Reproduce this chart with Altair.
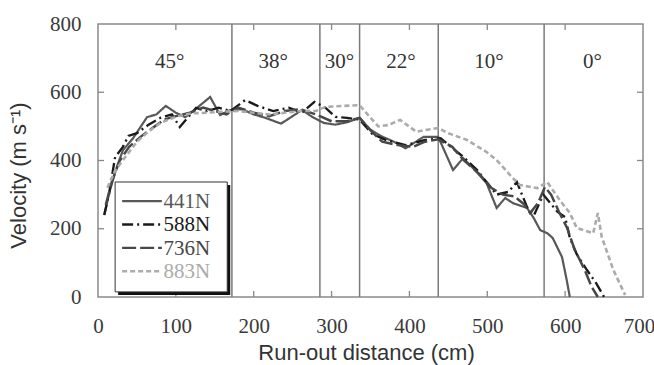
import altair as alt
import pandas as pd

# ---------------- data ----------------
series_names = ["441N", "588N", "736N", "883N"]

s441_x = [8, 15, 24, 32, 45, 63, 75, 87, 100, 112, 125, 144, 157, 170, 185, 200, 215, 235, 250, 262, 275, 290,
          305, 320, 336, 350, 365, 380, 395, 418, 437, 456, 469, 485, 499, 512, 523, 533, 551, 559, 568, 577,
          584, 596, 602, 606]
s441_y = [240, 310, 380, 430, 465, 527, 535, 560, 540, 527, 550, 586, 533, 548, 550, 535, 525, 508, 530, 548,
          528, 510, 505, 512, 525, 490, 470, 455, 436, 469, 469, 372, 407, 370, 334, 261, 290, 275, 261, 234,
          196, 187, 173, 117, 50, 0]

s588_x = [8, 14, 22, 32, 39, 50, 65, 80, 95, 105, 126, 140, 155, 170, 189, 205, 225, 245, 262, 278, 292, 305,
          320, 336, 352, 370, 395, 420, 440, 469, 487, 499, 512, 527, 538, 551, 560, 572, 580, 590, 600, 606,
          615, 628, 640, 650]
s588_y = [240, 300, 410, 440, 472, 480, 505, 525, 535, 498, 554, 545, 555, 545, 577, 560, 545, 555, 540, 572,
          555, 528, 525, 520, 478, 460, 445, 460, 465, 411, 372, 337, 300, 308, 337, 264, 240, 300, 278, 250,
          234, 173, 125, 79, 40, 0]

s736_x = [10, 18, 28, 40, 55, 70, 85, 100, 118, 135, 150, 165, 180, 200, 220, 240, 260, 280, 300, 320, 336,
          350, 365, 385, 405, 420, 437, 455, 470, 490, 505, 520, 535, 548, 555, 565, 574, 582, 592, 603, 612,
          625, 634, 642]
s736_y = [270, 340, 400, 440, 470, 495, 520, 530, 540, 555, 545, 535, 555, 540, 530, 545, 550, 535, 515, 515,
          525, 488, 455, 445, 440, 455, 462, 440, 400, 360, 320, 300, 295, 270, 246, 275, 322, 300, 250, 200,
          140, 80, 30, 0]

s883_x = [12, 22, 35, 50, 65, 80, 100, 120, 140, 160, 180, 200, 220, 240, 260, 280, 292, 315, 336, 349, 360,
          373, 388, 409, 420, 437, 450, 474, 499, 512, 520, 533, 542, 564, 577, 593, 606, 615, 636, 642, 647,
          662, 677]
s883_y = [320, 370, 410, 455, 485, 510, 528, 538, 540, 543, 545, 540, 535, 540, 545, 545, 557, 560, 562, 528,
          500, 504, 519, 484, 489, 495, 480, 460, 425, 401, 381, 348, 328, 319, 337, 284, 246, 202, 187, 246,
          176, 79, 6]

section_bounds = [172, 285, 336, 437, 573]
angle_labels = ["45°", "38°", "30°", "22°", "10°", "0°"]
angle_label_x = [92, 225, 310, 389, 502, 635]

x_ticks = [0, 100, 200, 300, 400, 500, 600, 700]
y_ticks = [0, 200, 400, 600, 800]

# ---------------- styles ----------------
series_colors = ["#585858", "#1a1a1a", "#474747", "#ababab"]
series_dash = [[1, 0], [11, 4, 2, 4], [14, 4], [5, 3]]
series_width = [2.2, 2.6, 1.6, 2.0]
SERIF = "Liberation Serif"
SANS = "Liberation Sans"
W, H = 545, 273

rows = []
for name, xs, ys in [("441N", s441_x, s441_y), ("588N", s588_x, s588_y),
                     ("736N", s736_x, s736_y), ("883N", s883_x, s883_y)]:
    for i, (a, b) in enumerate(zip(xs, ys)):
        rows.append({"series": name, "dist": a, "vel": b, "i": i})
df = pd.DataFrame(rows)

xscale = alt.Scale(domain=[0, 700], nice=False, zero=False)
yscale = alt.Scale(domain=[0, 800], nice=False, zero=False)

x_axis = alt.Axis(values=x_ticks, title="Run-out distance (cm)", grid=False, domain=False, ticks=False,
                  labelFont=SERIF, labelFontSize=21, labelColor="#3a3a3a", labelPadding=18,
                  labelFlush=False, labelOverlap=False,
                  labelOffset={"condition": {"test": "datum.value == 700", "value": -4}, "value": 0},
                  titleFont=SANS, titleFontSize=22, titleFontWeight="normal", titleColor="#333",
                  titleX=268, titleY=62, titleBaseline="alphabetic", titleAlign="center")
y_axis = alt.Axis(values=y_ticks, title="Velocity (m s⁻¹)", grid=False, domain=False, ticks=False,
                  labelFont=SERIF, labelFontSize=21, labelColor="#3a3a3a", labelPadding=17,
                  labelFlush=False, labelOverlap=False,
                  titleFont=SANS, titleFontSize=22, titleFontWeight="normal", titleColor="#333",
                  titleX=-80, titleY=151, titleAngle=270, titleAlign="center", titleBaseline="middle")

lines = alt.Chart(df).mark_line(interpolate="linear").encode(
    x=alt.X("dist:Q", scale=xscale, axis=x_axis),
    y=alt.Y("vel:Q", scale=yscale, axis=y_axis),
    color=alt.Color("series:N", scale=alt.Scale(domain=series_names, range=series_colors), legend=None),
    strokeDash=alt.StrokeDash("series:N", scale=alt.Scale(domain=series_names, range=series_dash), legend=None),
    strokeWidth=alt.StrokeWidth("series:N", scale=alt.Scale(domain=series_names, range=series_width), legend=None),
    order="i:Q",
)

bounds_df = pd.DataFrame({"b": section_bounds})
bound_rules = alt.Chart(bounds_df).mark_rule(color="#7a7a7a", strokeWidth=1.5).encode(x=alt.X("b:Q", scale=xscale))

angles_df = pd.DataFrame({"label": angle_labels, "lx": angle_label_x, "ly": [689] * len(angle_labels)})
angle_text = alt.Chart(angles_df).mark_text(font=SERIF, fontSize=21, color="#333", baseline="middle",
                                            align="center").encode(
    x=alt.X("lx:Q", scale=xscale), y=alt.Y("ly:Q", scale=yscale), text="label:N")

# inward ticks
xt_df = pd.DataFrame({"t": x_ticks[1:-1]})
yt_df = pd.DataFrame({"t": y_ticks[1:-1]})
tick_style = dict(color="#888", strokeWidth=1.3)
xt_bottom = alt.Chart(xt_df).mark_rule(**tick_style).encode(
    x=alt.X("t:Q", scale=xscale), y=alt.value(H), y2=alt.value(H - 6))
xt_top = alt.Chart(xt_df).mark_rule(**tick_style).encode(
    x=alt.X("t:Q", scale=xscale), y=alt.value(0), y2=alt.value(6))
yt_left = alt.Chart(yt_df).mark_rule(**tick_style).encode(
    y=alt.Y("t:Q", scale=yscale), x=alt.value(0), x2=alt.value(6))
yt_right = alt.Chart(yt_df).mark_rule(**tick_style).encode(
    y=alt.Y("t:Q", scale=yscale), x=alt.value(W), x2=alt.value(W - 6))

# legend (drawn in data units)
leg_box = pd.DataFrame({"x1": [22], "x2": [166], "y1": [337], "y2": [15]})
shadow = alt.Chart(leg_box).mark_rect(color="#111", xOffset=3, x2Offset=3, yOffset=3, y2Offset=3).encode(
    x=alt.X("x1:Q", scale=xscale), x2="x2:Q", y=alt.Y("y1:Q", scale=yscale), y2="y2:Q")
box = alt.Chart(leg_box).mark_rect(fill="white", stroke="#333", strokeWidth=1).encode(
    x=alt.X("x1:Q", scale=xscale), x2="x2:Q", y=alt.Y("y1:Q", scale=yscale), y2="y2:Q")

leg_df = pd.DataFrame({"series": series_names, "k": list(range(len(series_names)))})
leg_base = alt.Chart(leg_df).transform_calculate(
    ly="281 - 68.5 * datum.k", lx1="31", lx2="82", tx="84")
leg_lines = leg_base.mark_rule().encode(
    x=alt.X("lx1:Q", scale=xscale), x2="lx2:Q", y=alt.Y("ly:Q", scale=yscale),
    color=alt.Color("series:N", scale=alt.Scale(domain=series_names, range=series_colors), legend=None),
    strokeDash=alt.StrokeDash("series:N", scale=alt.Scale(domain=series_names, range=series_dash), legend=None),
    strokeWidth=alt.StrokeWidth("series:N", scale=alt.Scale(domain=series_names, range=series_width), legend=None),
)
leg_text = leg_base.mark_text(font=SERIF, fontSize=21, align="left", baseline="middle", dy=1).encode(
    x=alt.X("tx:Q", scale=xscale), y=alt.Y("ly:Q", scale=yscale), text="series:N",
    color=alt.Color("series:N", scale=alt.Scale(domain=series_names, range=series_colors), legend=None),
)

chart = alt.layer(
    bound_rules, lines, angle_text, xt_bottom, xt_top, yt_left, yt_right, shadow, box, leg_lines, leg_text
).properties(
    width=W, height=H,
    autosize=alt.AutoSizeParams(type="none"),
    padding={"left": 98, "top": 24, "right": 11, "bottom": 68},
    background="white",
).configure_view(stroke="#8a8a8a", strokeWidth=1.5)

chart.save("out.html", embed_options={"renderer": "svg", "actions": False})
